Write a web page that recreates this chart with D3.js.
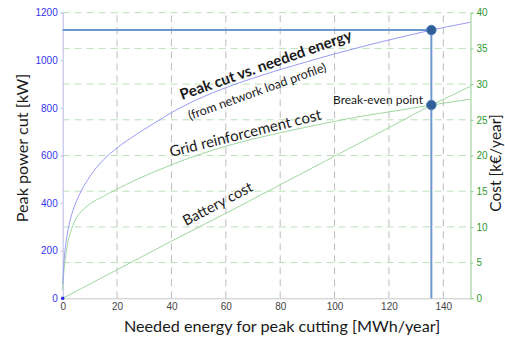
<!DOCTYPE html>
<html>
<head>
<meta charset="utf-8">
<script src="https://cdn.jsdelivr.net/npm/d3@7"></script>
<style>
  html, body { margin: 0; padding: 0; background: #fff; }
  svg { display: block; }
  .lbl { font-family: Lato, "Open Sans", sans-serif; fill: #1a1a1a; }
</style>
</head>
<body>
<svg id="chart" width="505" height="340"></svg>
<script>
// Needed energy for peak cutting (MWh/year) and the peak power that it cuts (kW)
const energy   = [0, 0.5, 1, 2, 3, 4.5, 7, 10, 15, 20, 27, 33, 40, 50, 60, 70, 85, 95, 110, 125, 135.6, 150];
const peakCut  = [60, 160, 215, 290, 340, 392, 455, 512, 582, 632, 688, 731, 780, 838, 885, 925, 978, 1011, 1057, 1099, 1127, 1160];
// Grid reinforcement cost (k€/year) at the same energies
const gridCost = [1.2, 4.0, 5.6, 8.0, 9.4, 10.9, 12.2, 13.2, 14.3, 15.3, 16.6, 17.6, 18.7, 20.1, 21.3, 22.3, 23.6, 24.4, 25.5, 26.4, 27.07, 27.9];
// Battery cost (k€/year)
const batteryEnergy = [0, 20, 40, 60, 80, 100, 120, 135.6, 150];
const batteryCost   = [0, 4.0, 8.0, 11.9, 15.9, 19.9, 23.9, 27.07, 29.7];
// Break-even point
const breakEven = { energy: 135.6, peak: 1127, cost: 27.07 };

const xTicks = [0, 20, 40, 60, 80, 100, 120, 140];
const yTicks = [0, 200, 400, 600, 800, 1000, 1200];
const costTicks = [0, 5, 10, 15, 20, 25, 30, 35, 40];

const svg = d3.select("#chart");
const x = d3.scaleLinear().domain([0, 150]).range([62.7, 470.5]);
const y = d3.scaleLinear().domain([0, 1200]).range([298.3, 12.7]);
const yc = d3.scaleLinear().domain([0, 40]).range([298.3, 12.7]);
const fmt = d3.format("d");
const tickFont = "Liberation Sans, Arial, sans-serif";

// grid: green dashed horizontals every 5 k€, gray dashed verticals every 20 MWh
svg.append("g").selectAll("line").data(costTicks.slice(1)).join("line")
  .attr("x1", x(0)).attr("x2", x(150))
  .attr("y1", d => yc(d)).attr("y2", d => yc(d))
  .attr("stroke", "#b9e0b9").attr("stroke-width", 1).attr("stroke-dasharray", "7,5");
svg.append("g").selectAll("line").data(xTicks.slice(1)).join("line")
  .attr("x1", d => x(d)).attr("x2", d => x(d))
  .attr("y1", y(0)).attr("y2", y(1200))
  .attr("stroke", "#bdbdbd").attr("stroke-width", 1).attr("stroke-dasharray", "7,5");

// axes
const gx = svg.append("g").attr("transform", `translate(0,${y(0)})`)
  .call(d3.axisBottom(x).tickValues(xTicks).tickFormat(fmt).tickSize(0).tickPadding(5));
gx.attr("font-family", tickFont).attr("font-size", 10);
gx.select(".domain").attr("stroke", "#c8c8c8");
gx.selectAll("text").attr("fill", "#444");

const gy = svg.append("g").attr("transform", `translate(${x(0)},0)`)
  .call(d3.axisLeft(y).tickValues(yTicks).tickFormat(fmt).tickSize(2).tickPadding(3));
gy.attr("font-family", tickFont).attr("font-size", 10);
gy.select(".domain").attr("stroke", "#b8b8e6");
gy.selectAll(".tick line").attr("stroke", "#b8b8e6");
gy.selectAll("text").attr("fill", "#3535f0");

const gr = svg.append("g").attr("transform", `translate(${x(150)},0)`)
  .call(d3.axisRight(yc).tickValues(costTicks).tickFormat(fmt).tickSize(3).tickPadding(3));
gr.attr("font-family", tickFont).attr("font-size", 10);
gr.select(".domain").attr("stroke", "#8fd08f");
gr.selectAll(".tick line").attr("stroke", "#8fd08f");
gr.selectAll("text").attr("fill", "#2f9a2f");

// curves
const peakLine = d3.line().x((d, i) => x(energy[i])).y(d => y(d)).curve(d3.curveMonotoneX);
const costLine = d3.line().x((d, i) => x(energy[i])).y(d => yc(d)).curve(d3.curveMonotoneX);
const battLine = d3.line().x((d, i) => x(batteryEnergy[i])).y(d => yc(d));

svg.append("path").attr("d", costLine(gridCost)).attr("fill", "none").attr("stroke", "#9fd89f").attr("stroke-width", 1);
svg.append("path").attr("d", battLine(batteryCost)).attr("fill", "none").attr("stroke", "#9fd89f").attr("stroke-width", 1);
svg.append("path").attr("d", peakLine(peakCut)).attr("fill", "none").attr("stroke", "#9a9af5").attr("stroke-width", 1);

// origin marker
svg.append("rect").attr("x", x(0) - 1.5).attr("y", y(0) - 1.5).attr("width", 3).attr("height", 3).attr("fill", "#2222ee");

// break-even guide lines
svg.append("line").attr("x1", x(0)).attr("x2", x(breakEven.energy))
  .attr("y1", y(breakEven.peak)).attr("y2", y(breakEven.peak))
  .attr("stroke", "#6f97cf").attr("stroke-width", 2);
svg.append("line").attr("x1", x(breakEven.energy)).attr("x2", x(breakEven.energy))
  .attr("y1", y(breakEven.peak)).attr("y2", y(0))
  .attr("stroke", "#6f97cf").attr("stroke-width", 2);

svg.append("g").selectAll("circle")
  .data([y(breakEven.peak), yc(breakEven.cost)]).join("circle")
  .attr("cx", x(breakEven.energy)).attr("cy", d => d).attr("r", 4.8)
  .attr("fill", "#2f5e98").attr("stroke", "#5583c0").attr("stroke-width", 1);

// axis titles
svg.append("text").attr("class", "lbl").attr("font-size", 16.2).attr("text-anchor", "middle")
  .attr("x", 282).attr("y", 332).text("Needed energy for peak cutting [MWh/year]");
svg.append("text").attr("class", "lbl").attr("font-size", 16.2).attr("text-anchor", "middle")
  .attr("transform", "translate(28,148) rotate(-90)").text("Peak power cut [kW]");
svg.append("text").attr("class", "lbl").attr("font-size", 15.5).attr("text-anchor", "middle")
  .attr("transform", "translate(501,163) rotate(-90)").text("Cost [k€/year]");

// curve annotations
svg.append("text").attr("class", "lbl").attr("font-size", 15).attr("font-weight", "bold")
  .attr("transform", "translate(182,100) rotate(-19.5)").text("Peak cut vs. needed energy");
svg.append("text").attr("class", "lbl").attr("font-size", 12.5)
  .attr("transform", "translate(190,120) rotate(-19.7)").text("(from network load profile)");
svg.append("text").attr("class", "lbl").attr("font-size", 15)
  .attr("transform", "translate(171,157) rotate(-14)").text("Grid reinforcement cost");
svg.append("text").attr("class", "lbl").attr("font-size", 14.5)
  .attr("transform", "translate(186,226) rotate(-27.7)").text("Battery cost");
svg.append("text").attr("class", "lbl").attr("font-size", 12).attr("text-anchor", "end")
  .attr("x", 423).attr("y", 104).text("Break-even point");
</script>
</body>
</html>
